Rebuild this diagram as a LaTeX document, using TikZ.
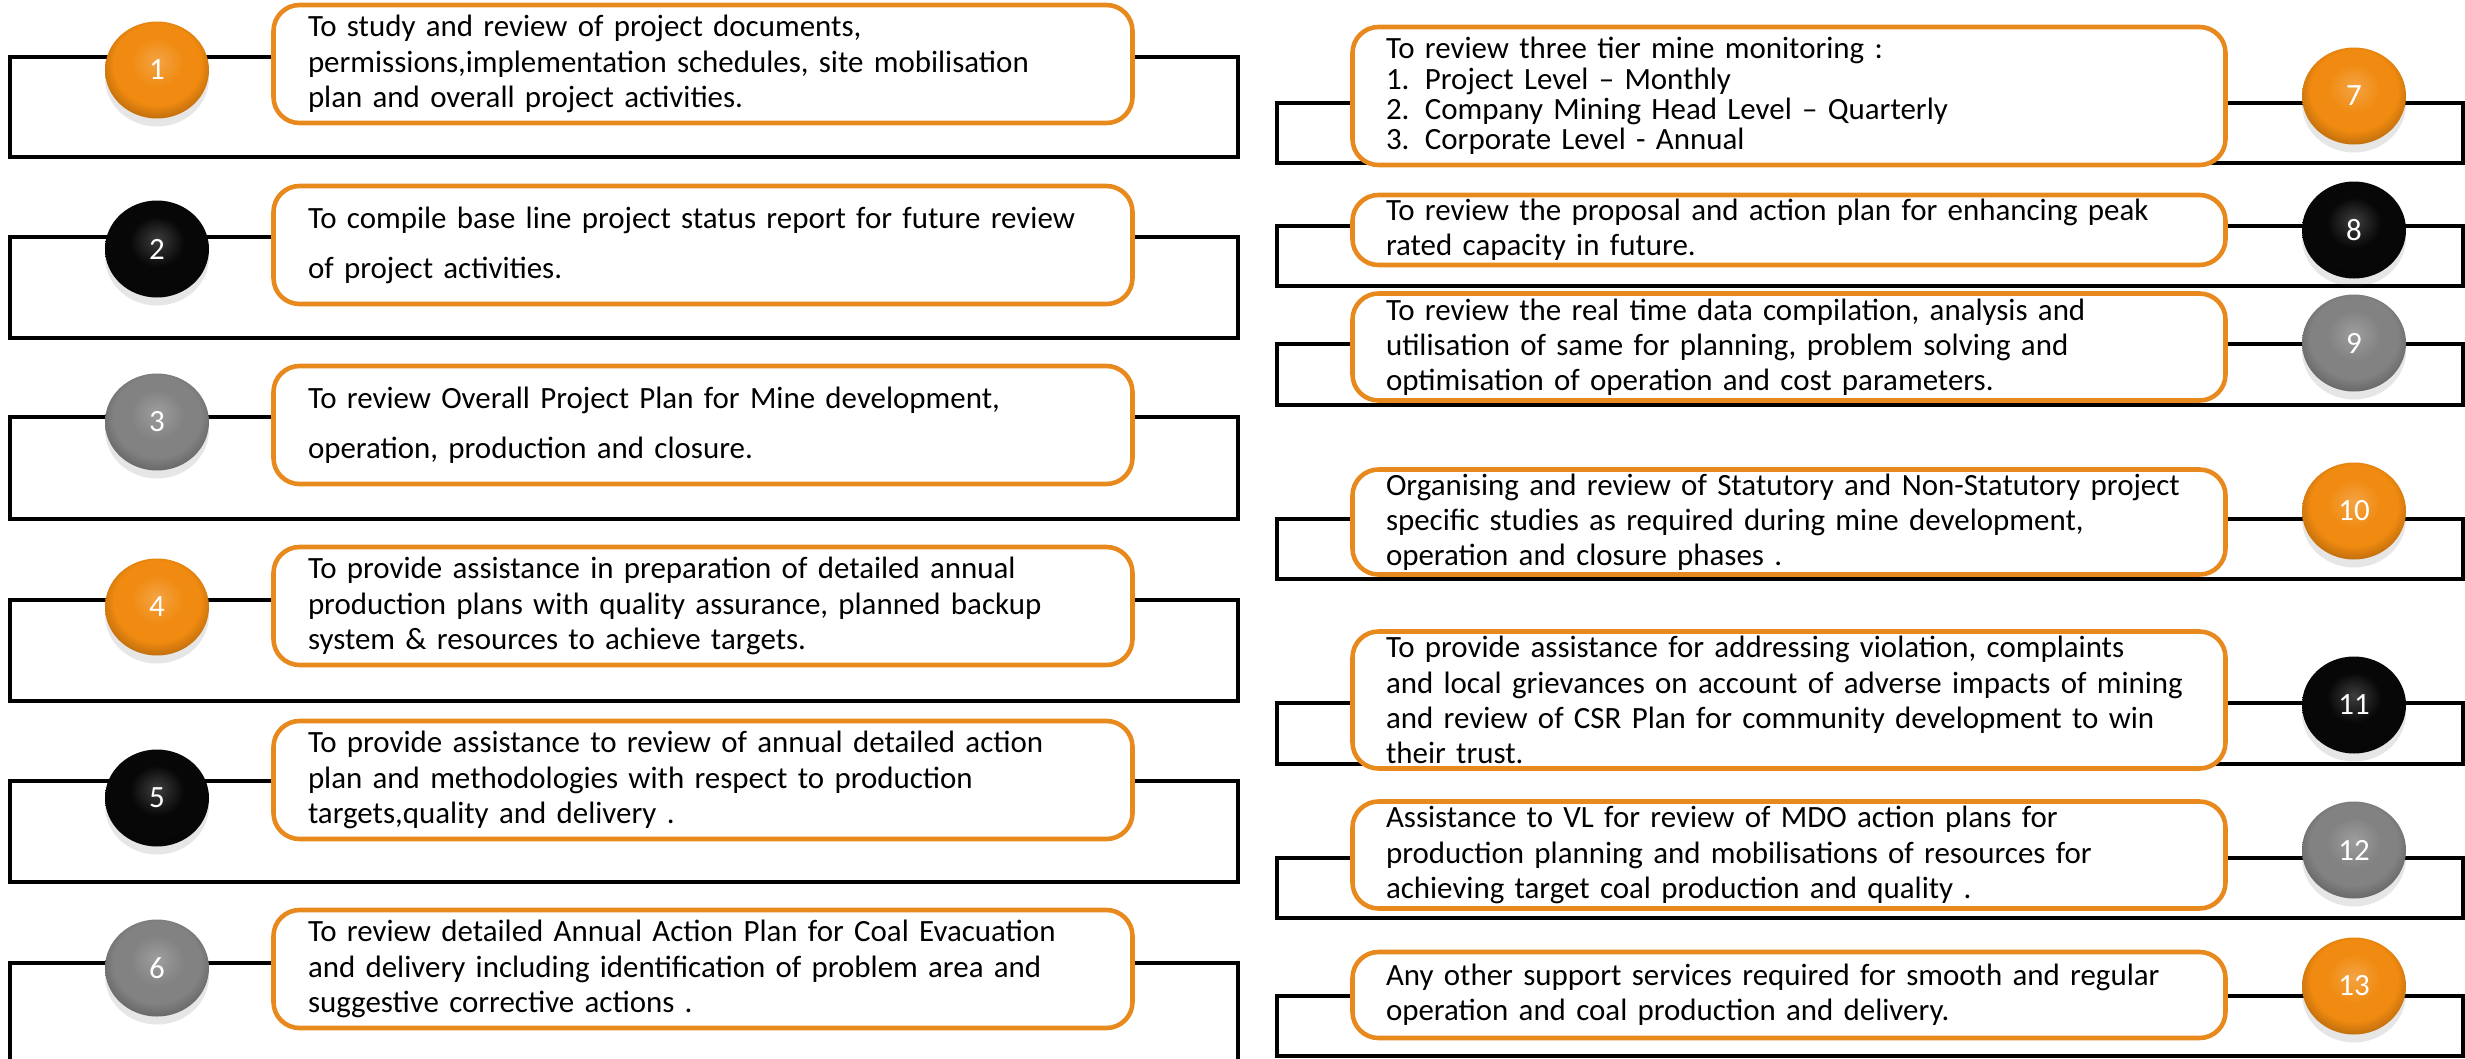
\documentclass[tikz,border=0pt]{standalone}
\usepackage{fontspec}
\setmainfont{Carlito}
\usepackage{xcolor}
\usetikzlibrary{shapes.geometric, shadows}
\definecolor{taskorange}{HTML}{E8891D}
\definecolor{ballorange}{HTML}{F08A10}
\definecolor{ballgray}{HTML}{828282}
\definecolor{ballblack}{HTML}{070707}
\colorlet{discbase}{ballorange}

% flat disc with a light top and a dark rim
\pgfdeclareradialshading[discbase]{disc}{\pgfpoint{0bp}{5bp}}{%
  color(0bp)=(discbase!78!white); color(13bp)=(discbase); color(21bp)=(discbase);
  color(30bp)=(discbase!72!black); color(50bp)=(discbase!72!black)}

\tikzset{
  bracketline/.style={draw=black, line width=0.9pt},
  taskbox/.style={draw=taskorange, line width=1.3pt, fill=white, rounded corners=2.6mm,
    align=left, inner ysep=0pt, minimum height=11.8mm,
    font=\fontsize{8.8}{10}\selectfont},
  leftbox/.style={taskbox, text width=79mm, inner xsep=3.45mm},
  rightbox/.style={taskbox, text width=80.6mm, inner xsep=3.35mm},
  loose/.style={font=\fontsize{8.8}{14.2}\selectfont},
  tight/.style={font=\fontsize{8.8}{8.6}\selectfont},
  ball/.style={ellipse, minimum width=10.4mm, minimum height=9.7mm, inner sep=0pt,
    text=white, font=\fontsize{8.8}{10}\selectfont,
    /utils/exec={\colorlet{discbase}{#1}}, shade, shading=disc,
    drop shadow={shadow xshift=0pt, shadow yshift=-0.8mm, opacity=0.14, fill=black!70}},
}

\begin{document}
\begin{tikzpicture}[x=0.1mm, y=-0.1mm]
  \useasboundingbox (0,0) rectangle (2465,1058);

  % Frames behind each step
  \foreach \top/\bot in {57/157, 237/338, 417/519, 600/701, 781/882, 963/1064}
    \draw[bracketline] (10,\top) rectangle (1238,\bot);
  \foreach \top/\bot in {103/163, 226/286, 344/405, 519/579, 703/764, 858/918, 996/1056}
    \draw[bracketline] (1277,\top) rectangle (2463,\bot);

  % Left column
  \node[leftbox] (t1) at (703,64) {To study and review of project documents,\\
    permissions,implementation schedules, site mobilisation\\
    plan and overall project activities.};
  \node[leftbox, loose] (t2) at (703,245) {To compile base line project status report for future review\\
    of project activities.};
  \node[leftbox, loose] (t3) at (703,425) {To review Overall Project Plan for Mine development,\\
    operation, production and closure.};
  \node[leftbox] (t4) at (703,606) {To provide assistance in preparation of detailed annual\\
    production plans with quality assurance, planned backup\\
    system \& resources to achieve targets.};
  \node[leftbox] (t5) at (703,780) {To provide assistance to review of annual detailed action\\
    plan and methodologies with respect to production\\
    targets,quality and delivery .};
  \node[leftbox] (t6) at (703,969) {To review detailed Annual Action Plan for Coal Evacuation\\
    and delivery including identification of problem area and\\
    suggestive corrective actions .};

  % Right column
  \node[rightbox, tight, minimum height=13.8mm] (t7) at (1789,96) {To review three tier mine monitoring :\\
    1. Project Level -- Monthly\\
    2. Company Mining Head Level -- Quarterly\\
    3. Corporate Level - Annual};
  \node[rightbox, minimum height=7mm] (t8) at (1789,230) {To review the proposal and action plan for enhancing peak\\
    rated capacity in future.};
  \node[rightbox, minimum height=10.7mm] (t9) at (1789,347) {To review the real time data compilation, analysis and\\
    utilisation of same for planning, problem solving and\\
    optimisation of operation and cost parameters.};
  \node[rightbox, minimum height=10.5mm] (t10) at (1789,522) {Organising and review of Statutory and Non-Statutory project\\
    specific studies as required during mine development,\\
    operation and closure phases .};
  \node[rightbox, minimum height=13.7mm] (t11) at (1789,700) {To provide assistance for addressing violation, complaints\\
    and local grievances on account of adverse impacts of mining\\
    and review of CSR Plan for community development to win\\
    their trust.};
  \node[rightbox, minimum height=10.7mm] (t12) at (1789,855) {Assistance to VL for review of MDO action plans for\\
    production planning and mobilisations of resources for\\
    achieving target coal production and quality .};
  \node[rightbox, minimum height=8.6mm] (t13) at (1789,995) {Any other support services required for smooth and regular\\
    operation and coal production and delivery.};

  % Numbered discs
  \node[ball=ballorange] (b1) at (157,70) {1};
  \node[ball=ballblack] (b2) at (157,249) {2};
  \node[ball=ballgray] (b3) at (157,422) {3};
  \node[ball=ballorange] (b4) at (157,607) {4};
  \node[ball=ballblack] (b5) at (157,798) {5};
  \node[ball=ballgray] (b6) at (157,968) {6};
  \node[ball=ballorange] (b7) at (2354,96) {7};
  \node[ball=ballblack] (b8) at (2354,230) {8};
  \node[ball=ballgray] (b9) at (2354,343) {9};
  \node[ball=ballorange] (b10) at (2354,511) {10};
  \node[ball=ballblack] (b11) at (2354,705) {11};
  \node[ball=ballgray] (b12) at (2354,850) {12};
  \node[ball=ballorange] (b13) at (2354,986) {13};
\end{tikzpicture}
\end{document}
